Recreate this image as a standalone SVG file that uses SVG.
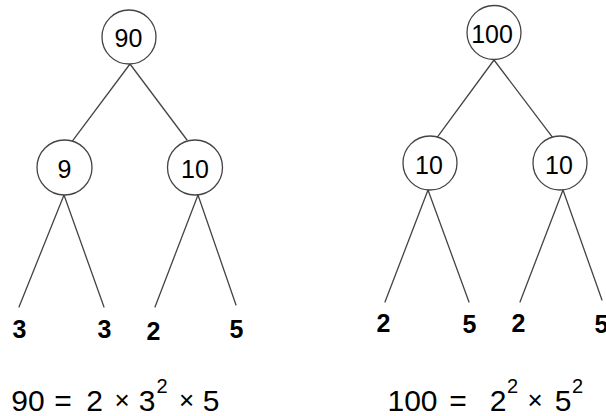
<svg xmlns="http://www.w3.org/2000/svg" width="606" height="416" viewBox="0 0 606 416">
  <style>
    .node circle { fill: #ffffff; stroke: #444444; stroke-width: 1.3; }
    .node text { font-family: "Liberation Sans", Arial, sans-serif; font-size: 25px; fill: #000000; text-anchor: middle; }
    .edges line { stroke: #444444; stroke-width: 1.3; stroke-linecap: round; }
    .leaf { font-family: "Liberation Sans", Arial, sans-serif; font-size: 25px; font-weight: bold; fill: #000000; text-anchor: middle; }
    .eq { font-family: "Liberation Sans", Arial, sans-serif; font-size: 30px; fill: #000000; text-anchor: middle; }
    .eq .sup { font-size: 20px; }
    .eq .times { font-size: 26px; }
  </style>
  <rect width="606" height="416" fill="#ffffff"/>

  <!-- connectors -->
  <g class="edges">
    <!-- tree of 90 -->
    <line x1="130" y1="64" x2="72.7" y2="140.7"/>
    <line x1="130" y1="64" x2="187" y2="140"/>
    <line x1="64" y1="195" x2="19" y2="307"/>
    <line x1="64" y1="195" x2="104" y2="307"/>
    <line x1="198" y1="195" x2="155" y2="307"/>
    <line x1="198" y1="195" x2="236" y2="305"/>
    <!-- tree of 100 -->
    <line x1="494" y1="60" x2="437.7" y2="136.7"/>
    <line x1="494" y1="60" x2="552" y2="136.7"/>
    <line x1="428" y1="190" x2="385" y2="302"/>
    <line x1="428" y1="190" x2="469" y2="302"/>
    <line x1="563" y1="190" x2="520" y2="302"/>
    <line x1="563" y1="190" x2="602" y2="300"/>
  </g>

  <!-- nodes: tree of 90 -->
  <g id="n90" class="node">
    <circle cx="129" cy="37" r="27"/>
    <text x="128.5" y="47">90</text>
  </g>
  <g id="n9" class="node">
    <circle cx="64.5" cy="167.5" r="27.5"/>
    <text x="64.5" y="178">9</text>
  </g>
  <g id="n10a" class="node">
    <circle cx="195" cy="167.5" r="27.5"/>
    <text x="195" y="178">10</text>
  </g>

  <!-- nodes: tree of 100 -->
  <g id="n100" class="node">
    <circle cx="494" cy="32.5" r="27"/>
    <text x="492" y="43">100</text>
  </g>
  <g id="n10b" class="node">
    <circle cx="430" cy="163" r="27"/>
    <text x="429" y="174">10</text>
  </g>
  <g id="n10c" class="node">
    <circle cx="560" cy="163" r="27"/>
    <text x="559" y="174">10</text>
  </g>

  <!-- prime leaves -->
  <g id="leaves90">
    <text class="leaf" x="19.5" y="338">3</text>
    <text class="leaf" x="104.5" y="338">3</text>
    <text class="leaf" x="153.5" y="340">2</text>
    <text class="leaf" x="236.5" y="338">5</text>
  </g>
  <g id="leaves100">
    <text class="leaf" x="383.5" y="332">2</text>
    <text class="leaf" x="469.5" y="333">5</text>
    <text class="leaf" x="518.5" y="332">2</text>
    <text class="leaf" x="601.5" y="333">5</text>
  </g>

  <!-- factorisations -->
  <g id="eq90" class="eq">
    <text x="28" y="411">90</text>
    <text x="63" y="411">=</text>
    <text x="94.5" y="411">2</text>
    <text class="times" x="122" y="409">×</text>
    <text x="147" y="411">3</text>
    <text class="sup" x="162" y="393">2</text>
    <text class="times" x="186.5" y="409">×</text>
    <text x="211" y="411">5</text>
  </g>
  <g id="eq100" class="eq">
    <text x="412.5" y="411">100</text>
    <text x="458" y="411">=</text>
    <text x="498" y="411">2</text>
    <text class="sup" x="512.5" y="393">2</text>
    <text class="times" x="535" y="409">×</text>
    <text x="563" y="411">5</text>
    <text class="sup" x="577.5" y="393">2</text>
  </g>
</svg>
